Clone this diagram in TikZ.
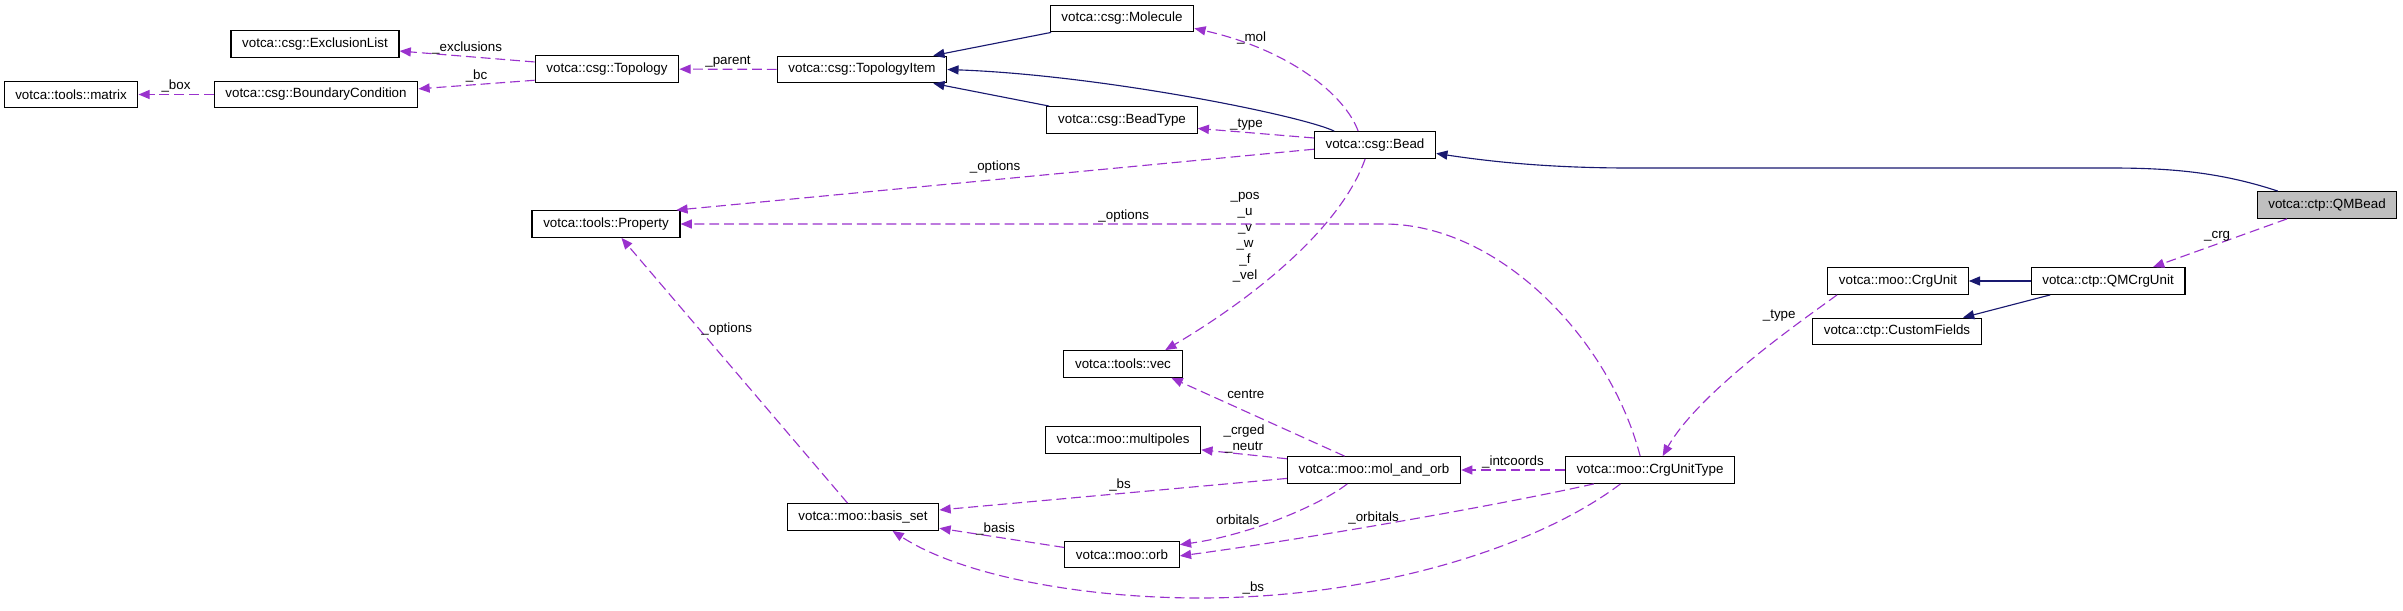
\documentclass[tikz,border=0pt]{standalone}
\usepackage{fontspec}
\setsansfont{Liberation Sans}
\usetikzlibrary{arrows.meta,calc}
\definecolor{navyedge}{HTML}{191970}
\definecolor{orchid}{HTML}{9A32CD}

\begin{document}
\begin{tikzpicture}[
  x=0.025cm,y=-0.025cm,
  font=\sffamily\fontsize{9.5}{11.4}\selectfont,
  >={Triangle[length=8pt,width=6.5pt]},
  klass/.style={draw=black,line width=0.8pt,inner xsep=8pt,inner ysep=0pt,minimum height=19pt,fill=white},
  focus/.style={klass,fill=black!25},
  inherit/.style={->,line width=0.8pt,draw=navyedge},
  member/.style={->,line width=0.8pt,draw=orchid,dash pattern=on 7pt off 3.5pt},
  lbl/.style={inner sep=1pt,text=black}
]
  \useasboundingbox (0,0) rectangle (2403,611);

  \node[klass] (matrix) at (71,94.5) {votca::tools::matrix};
  \node[klass] (bc) at (316,94.5) {votca::csg::BoundaryCondition};
  \node[klass] (excl) at (315,44) {votca::csg::ExclusionList};
  \node[klass] (topo) at (607,69) {votca::csg::Topology};
  \node[klass] (titem) at (862,69.5) {votca::csg::TopologyItem};
  \node[klass] (molec) at (1122,18.5) {votca::csg::Molecule};
  \node[klass] (btype) at (1122,120) {votca::csg::BeadType};
  \node[klass] (bead) at (1375,145) {votca::csg::Bead};
  \node[focus] (qmbead) at (2327,205) {votca::ctp::QMBead};
  \node[klass] (prop) at (606,224) {votca::tools::Property};
  \node[klass] (crgunit) at (1898,281) {votca::moo::CrgUnit};
  \node[klass] (qmcrg) at (2108,281) {votca::ctp::QMCrgUnit};
  \node[klass] (cfields) at (1897,331.5) {votca::ctp::CustomFields};
  \node[klass] (vec) at (1123,364) {votca::tools::vec};
  \node[klass] (multip) at (1123,440) {votca::moo::multipoles};
  \node[klass] (mao) at (1374,470) {votca::moo::mol\_and\_orb};
  \node[klass] (cut) at (1650,470) {votca::moo::CrgUnitType};
  \node[klass] (bset) at (863,517) {votca::moo::basis\_set};
  \node[klass] (orb) at (1122,554.5) {votca::moo::orb};

  % base classes
  \draw[inherit] ([xshift=1pt]molec.south west) -- ([xshift=-10pt]titem.north east);
  \draw[inherit] ([xshift=-29pt]bead.north) .. controls (1300,115) and (1100,75) .. (titem.east);
  \draw[inherit] ([xshift=2pt]btype.north west) -- ([xshift=-10pt]titem.south east);
  \draw[inherit] ([xshift=-35pt]qmbead.north) .. controls (2220,172) and (2170,168) .. (2110,168) -- (1630,168) .. controls (1540,168) and (1480,160) .. ([yshift=-6pt]bead.east);
  \draw[inherit] (qmcrg) -- (crgunit);
  \draw[inherit] ([xshift=14pt]qmcrg.south west) -- ([xshift=-13.5pt]cfields.north east);

  % members
  \draw[member] (titem) -- node[lbl,above]{\_parent} (topo);
  \draw[member] ([yshift=5pt]topo.west) -- node[lbl,above]{\_exclusions} ([yshift=-5pt]excl.east);
  \draw[member] ([yshift=-8pt]topo.west) -- node[lbl,above]{\_bc} ([yshift=4pt]bc.east);
  \draw[member] (bc) -- node[lbl,above]{\_box} (matrix);
  \draw[member] ([xshift=-12pt]bead.north) .. controls (1345,95) and (1290,50) .. node[lbl,pos=.78,above]{\_mol} ([yshift=-7pt]molec.east);
  \draw[member] ([yshift=5pt]bead.west) -- node[lbl,pos=.58,above]{\_type} ([yshift=-6pt]btype.east);
  \draw[member] ([yshift=-3pt]bead.west) -- node[lbl,pos=.5,above,yshift=3pt]{\_options} ([xshift=-3pt]prop.north east);
  \draw[member] ([xshift=-7pt]bead.south) .. controls (1340,230) and (1250,300) .. node[lbl,pos=.4,xshift=-45pt,yshift=4pt,align=center]{\_pos\\\_u\\\_v\\\_w\\\_f\\\_vel} ([xshift=30pt]vec.north);
  \draw[member] ([xshift=-7pt]cut.north) .. controls (1610,340) and (1500,224) .. (1384,224) -- node[lbl,pos=.37,above]{\_options} (prop.east);
  \draw[member] ([xshift=-28.5pt]qmbead.south) -- node[lbl,pos=.5,above,xshift=-2pt]{\_crg} ([xshift=32pt]qmcrg.north);
  \draw[member] ([xshift=7pt]crgunit.south west) .. controls (1810,315) and (1700,390) .. node[lbl,pos=.22,left=8pt]{\_type} ([xshift=9pt]cut.north);
  \draw[member] ([xshift=-21pt]mao.north) -- node[lbl,pos=.57,above,yshift=8pt]{centre} ([xshift=-8pt]vec.south east);
  \draw[member] ([yshift=8pt]mao.west) -- node[lbl,pos=.5,yshift=11pt,align=center]{\_crged\\\_neutr} ([yshift=-7pt]multip.east);
  \draw[member] ([yshift=-6pt]mao.west) -- node[lbl,pos=.48,above]{\_bs} ([yshift=5pt]bset.east);
  \draw[member] ([xshift=-19pt]mao.south) .. controls (1320,505) and (1250,535) .. node[lbl,pos=.6,left,yshift=4pt]{orbitals} ([yshift=7pt]orb.east);
  \draw[member] (cut) -- node[lbl,above]{\_intcoords} (mao);
  \draw[member] ([xshift=-40pt]cut.south) .. controls (1500,505) and (1300,540) .. node[lbl,pos=.55,above]{\_orbitals} ([yshift=-1pt]orb.east);
  \draw[member] ([xshift=-21pt]cut.south) .. controls (1540,545) and (1380,598) .. node[lbl,pos=.9,above]{\_bs} (1200,598) .. controls (1080,598) and (960,575) .. ([xshift=21pt]bset.south);
  \draw[member] ([yshift=5pt]orb.west) -- node[lbl,pos=.55,above]{\_basis} ([yshift=-8pt]bset.east);
  \draw[member] ([xshift=-11pt]bset.north) -- node[lbl,pos=.655,right]{\_options} ([xshift=11pt]prop.south);
\end{tikzpicture}
\end{document}
